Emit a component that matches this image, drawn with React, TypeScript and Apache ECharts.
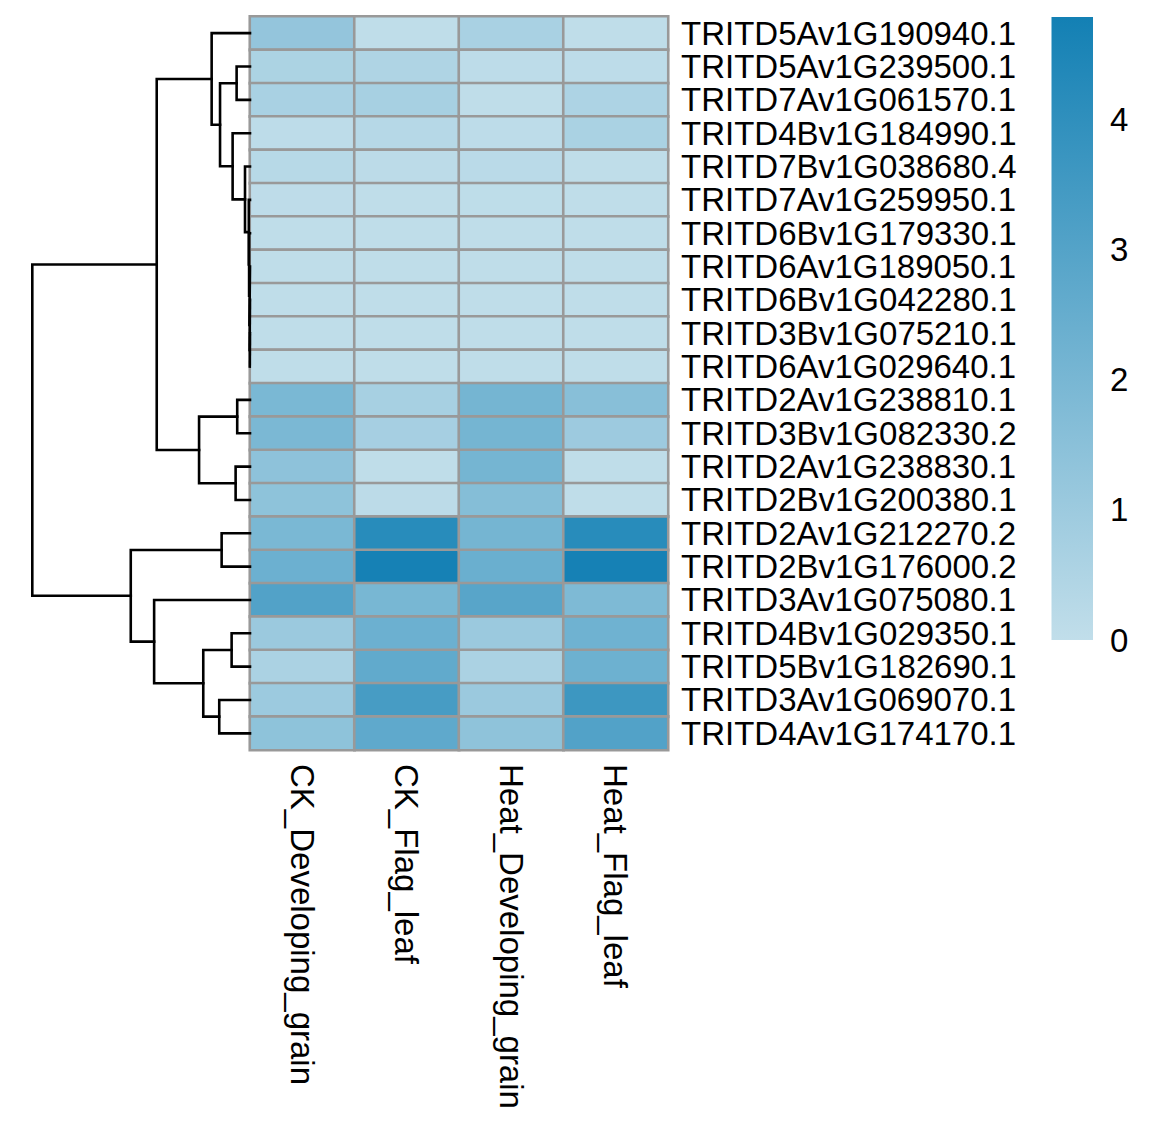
import React, { useEffect, useRef } from "react";
import * as echarts from "echarts";

const samples = ["CK_Developing_grain", "CK_Flag_leaf", "Heat_Developing_grain", "Heat_Flag_leaf"];

const genes = [
  "TRITD5Av1G190940.1",
  "TRITD5Av1G239500.1",
  "TRITD7Av1G061570.1",
  "TRITD4Bv1G184990.1",
  "TRITD7Bv1G038680.4",
  "TRITD7Av1G259950.1",
  "TRITD6Bv1G179330.1",
  "TRITD6Av1G189050.1",
  "TRITD6Bv1G042280.1",
  "TRITD3Bv1G075210.1",
  "TRITD6Av1G029640.1",
  "TRITD2Av1G238810.1",
  "TRITD3Bv1G082330.2",
  "TRITD2Av1G238830.1",
  "TRITD2Bv1G200380.1",
  "TRITD2Av1G212270.2",
  "TRITD2Bv1G176000.2",
  "TRITD3Av1G075080.1",
  "TRITD4Bv1G029350.1",
  "TRITD5Bv1G182690.1",
  "TRITD3Av1G069070.1",
  "TRITD4Av1G174170.1",
];

const ckDevelopingGrain = [1.25, 0.58, 0.66, 0.1, 0.28, 0.08, 0.06, 0.05, 0.05, 0.05, 0.05, 1.95, 1.94, 1.41, 1.4, 1.95, 2.35, 3.05, 1.05, 0.6, 1.02, 1.4];
const ckFlagLeaf = [0.05, 0.5, 0.72, 0.3, 0.14, 0.06, 0.05, 0.05, 0.05, 0.05, 0.05, 0.72, 0.75, 0.05, 0.15, 4.2, 4.72, 2.0, 2.35, 2.63, 3.35, 2.7];
const heatDevelopingGrain = [0.66, 0.11, 0.05, 0.1, 0.18, 0.07, 0.06, 0.05, 0.05, 0.05, 0.05, 2.1, 2.1, 2.1, 1.65, 2.1, 2.4, 2.9, 1.05, 0.6, 1.05, 1.38];
const heatFlagLeaf = [0.05, 0.11, 0.55, 0.63, 0.06, 0.05, 0.05, 0.05, 0.05, 0.05, 0.05, 1.58, 1.0, 0.05, 0.05, 4.2, 4.72, 1.85, 2.25, 2.3, 3.63, 3.05];

const colorTicks = [0, 1, 2, 3, 4];
const colorMin = 0;
const colorMax = 4.79;

// hclust-style merges: negative = leaf (row index + 1), positive = earlier merge (1-based)
const mergeLeft = [-10, -9, -8, -7, -6, -5, -12, -2, -14, -4, -19, -16, 8, -21, -1, 11, 7, 15, -18, 12, 18];
const mergeRight = [-11, 1, 2, 3, 4, 5, -13, -3, -15, 6, -20, -17, 10, -22, 13, 14, 9, 17, 16, 19, 20];
const mergeHeight = [0.01, 0.02, 0.03, 0.045, 0.06, 0.25, 0.64, 0.67, 0.72, 0.87, 0.92, 1.42, 1.5, 1.54, 1.92, 2.34, 2.55, 4.67, 4.8, 5.97, 10.9];

const FONT = "'Liberation Sans', Arial, sans-serif";

function buildDendrogram() {
  const pos: number[] = [];
  const hgt: number[] = [];
  const getPos = (id: number) => (id < 0 ? -id - 1 + 0.5 : pos[id - 1]);
  const getH = (id: number) => (id < 0 ? 0 : hgt[id - 1]);
  const paths: number[][][] = [];
  for (let k = 0; k < mergeHeight.length; k++) {
    const l = mergeLeft[k];
    const r = mergeRight[k];
    const h = mergeHeight[k];
    const pl = getPos(l);
    const pr = getPos(r);
    paths.push([
      [getH(l), pl],
      [h, pl],
      [h, pr],
      [getH(r), pr],
    ]);
    pos.push((pl + pr) / 2);
    hgt.push(h);
  }
  return paths;
}

export default function App() {
  const ref = useRef<HTMLDivElement>(null);
  useEffect(() => {
    document.body.style.margin = "0";
    document.body.style.overflow = "hidden";
    if (!ref.current) return;
    const chart = echarts.init(ref.current, undefined, { renderer: "svg" });

    const heatData: number[][] = [];
    const cols = [ckDevelopingGrain, ckFlagLeaf, heatDevelopingGrain, heatFlagLeaf];
    cols.forEach((arr, c) => arr.forEach((v, r) => heatData.push([c, r, v])));

    const rootHeight = mergeHeight[mergeHeight.length - 1];

    const dendroSeries = buildDendrogram().map((p) => ({
      type: "line",
      xAxisIndex: 1,
      yAxisIndex: 1,
      data: p,
      symbol: "none",
      silent: true,
      lineStyle: { color: "#000", width: 2.6, join: "miter", cap: "square" },
    }));

    chart.setOption({
      animation: false,
      backgroundColor: "#ffffff",
      textStyle: { fontFamily: FONT },
      grid: [
        { left: 250, top: 16.5, width: 418, height: 733.5 },
        { left: 32.3, top: 16.5, width: 217.7, height: 733.5 },
        { left: 1051.5, top: 17, width: 41.5, height: 623 },
      ],
      xAxis: [
        {
          gridIndex: 0,
          type: "category",
          data: samples,
          position: "bottom",
          axisLine: { show: false },
          axisTick: { show: false },
          splitLine: { show: false },
          axisLabel: {
            rotate: -90,
            fontSize: 33,
            margin: 14,
            color: "#000",
            fontFamily: FONT,
            interval: 0,
          },
        },
        {
          gridIndex: 1,
          type: "value",
          min: 0,
          max: rootHeight,
          inverse: true,
          show: false,
        },
        {
          gridIndex: 2,
          type: "category",
          data: ["scale"],
          show: false,
        },
      ],
      yAxis: [
        {
          gridIndex: 0,
          type: "category",
          data: genes,
          inverse: true,
          position: "right",
          axisLine: { show: false },
          axisTick: { show: false },
          splitLine: { show: false },
          axisLabel: {
            fontSize: 33,
            margin: 13,
            color: "#000",
            fontFamily: FONT,
            interval: 0,
          },
        },
        {
          gridIndex: 1,
          type: "value",
          min: 0,
          max: genes.length,
          inverse: true,
          show: false,
        },
        {
          gridIndex: 2,
          type: "value",
          min: colorMin,
          max: colorMax,
          interval: 1,
          position: "right",
          axisLine: { show: false },
          axisTick: { show: false },
          splitLine: { show: false },
          axisLabel: {
            fontSize: 33,
            margin: 17,
            color: "#000",
            fontFamily: FONT,
            showMaxLabel: false,
            formatter: (v: number) => (colorTicks.includes(v) ? String(v) : ""),
          },
        },
      ],
      visualMap: {
        show: false,
        type: "continuous",
        min: colorMin,
        max: colorMax,
        seriesIndex: 0,
        dimension: 2,
        inRange: { color: ["#C1DEEA", "#1380B4"] },
      },
      series: [
        {
          type: "heatmap",
          xAxisIndex: 0,
          yAxisIndex: 0,
          data: heatData,
          itemStyle: { borderColor: "#999999", borderWidth: 2.6 },
          emphasis: { disabled: true },
        },
        {
          type: "bar",
          xAxisIndex: 2,
          yAxisIndex: 2,
          data: [colorMax],
          barWidth: "100%",
          silent: true,
          itemStyle: {
            color: new echarts.graphic.LinearGradient(0, 0, 0, 1, [
              { offset: 0, color: "#1380B4" },
              { offset: 1, color: "#C1DEEA" },
            ]),
          },
        },
        ...dendroSeries,
      ],
    });
    return () => chart.dispose();
  }, []);
  return <div ref={ref} style={{ width: 1170, height: 1141 }} />;
}
